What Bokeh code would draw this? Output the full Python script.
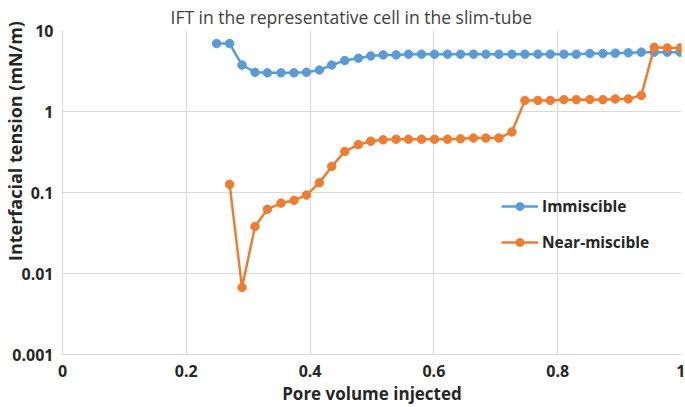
from bokeh.plotting import figure
from bokeh.models import Legend, LegendItem, FixedTicker, CustomJSTickFormatter
from bokeh.embed import file_html
from bokeh.resources import INLINE

# ---- data ----
immiscible_x = [0.249, 0.270, 0.290, 0.311, 0.331, 0.353, 0.374, 0.394, 0.415, 0.435,
                0.456, 0.478, 0.498, 0.518, 0.539, 0.559, 0.580, 0.601, 0.622, 0.643,
                0.664, 0.684, 0.705, 0.726, 0.747, 0.768, 0.788, 0.810, 0.830, 0.852,
                0.873, 0.893, 0.914, 0.935, 0.956, 0.977, 0.998]
immiscible_y = [6.9, 6.9, 3.75, 3.05, 3.0, 3.0, 3.0, 3.05, 3.25, 3.75,
                4.25, 4.55, 4.85, 5.0, 5.0, 5.1, 5.1, 5.1, 5.1, 5.1,
                5.1, 5.1, 5.1, 5.1, 5.1, 5.1, 5.1, 5.1, 5.1, 5.2,
                5.2, 5.25, 5.3, 5.4, 5.4, 5.4, 5.4]

near_x = [0.270, 0.290, 0.311, 0.331, 0.353, 0.374, 0.394, 0.415, 0.435,
          0.456, 0.478, 0.498, 0.518, 0.539, 0.559, 0.580, 0.601, 0.622, 0.643,
          0.664, 0.684, 0.705, 0.726, 0.747, 0.768, 0.788, 0.810, 0.830, 0.852,
          0.873, 0.893, 0.914, 0.935, 0.956, 0.977, 0.998]
near_y = [0.126, 0.0067, 0.038, 0.062, 0.074, 0.080, 0.093, 0.132, 0.21,
          0.32, 0.39, 0.43, 0.447, 0.455, 0.455, 0.455, 0.455, 0.455, 0.46,
          0.47, 0.47, 0.47, 0.56, 1.37, 1.37, 1.37, 1.40, 1.40, 1.41,
          1.40, 1.43, 1.43, 1.58, 6.2, 6.1, 6.1]

x_ticks = [0, 0.2, 0.4, 0.6, 0.8, 1.0]
y_ticks = [0.001, 0.01, 0.1, 1, 10]

title_text = "IFT in the representative cell in the slim-tube"
x_label = "Pore volume injected"
y_label = "Interfacial tension (mN/m)"
series_names = ["Immiscible", "Near-miscible"]

BLUE = "#5B9BD5"
ORANGE = "#ED7D31"
GRID = "#D9D9D9"
TXT = "#262626"
FONT = "Open Sans"

p = figure(width=685, height=407, x_range=(0, 1), y_range=(0.001, 10),
           y_axis_type="log", output_backend="svg", toolbar_location=None,
           title=title_text, min_border_left=61, min_border_right=4,
           min_border_top=30, min_border_bottom=52)
p.outline_line_color = None
p.background_fill_color = "white"

p.title.align = "left"
p.title.vertical_align = "bottom"
p.title.offset = 108
p.title.standoff = 4
p.title.text_font = FONT
p.title.text_font_size = "17.5px"
p.title.text_font_style = "normal"
p.title.text_color = "#404040"

# axes
for ax in (p.xaxis[0], p.yaxis[0]):
    ax.axis_line_color = GRID
    ax.major_tick_line_color = None
    ax.minor_tick_line_color = None
    ax.major_tick_out = 0
    ax.major_label_text_font = FONT
    ax.major_label_text_font_style = "bold"
    ax.major_label_text_font_size = "16px"
    ax.major_label_text_color = TXT
    ax.axis_label_text_font = FONT
    ax.axis_label_text_font_style = "bold"
    ax.axis_label_text_color = TXT

p.xaxis.ticker = FixedTicker(ticks=x_ticks)
p.xaxis.formatter = CustomJSTickFormatter(code="return String(Math.round(tick*10)/10)")
p.xaxis.major_label_standoff = 10
p.xaxis.axis_label = x_label
p.xaxis.axis_label_standoff = 2
p.xaxis.axis_label_text_font_size = "17px"

p.yaxis.ticker = FixedTicker(ticks=y_ticks)
p.yaxis.formatter = CustomJSTickFormatter(code="return String(tick)")
p.yaxis.major_label_standoff = 9
# leading no-break spaces lift the label above the lower tick labels, as in the reference
p.yaxis.axis_label = "\u00a0" * 22 + y_label
p.yaxis.axis_label_standoff = -18
p.yaxis.axis_label_text_font_size = "18px"

p.xgrid.grid_line_color = GRID
p.ygrid.grid_line_color = GRID

# data
l1 = p.line(immiscible_x, immiscible_y, line_color=BLUE, line_width=2.5)
s1 = p.scatter(immiscible_x, immiscible_y, marker="circle", size=8.5,
               fill_color=BLUE, line_color=BLUE)
l2 = p.line(near_x, near_y, line_color=ORANGE, line_width=2.5)
s2 = p.scatter(near_x, near_y, marker="circle", size=8.5,
               fill_color=ORANGE, line_color=ORANGE)

legend = Legend(items=[LegendItem(label=series_names[0], renderers=[l1, s1]),
                       LegendItem(label=series_names[1], renderers=[l2, s2])],
                location=(439, 101), padding=0, margin=0, spacing=14,
                glyph_width=37, glyph_height=20, label_height=20,
                label_standoff=4, border_line_color=None,
                background_fill_alpha=0,
                label_text_font=FONT, label_text_font_style="bold",
                label_text_font_size="15.5px", label_text_color=TXT)
p.add_layout(legend)

open("out.html", "w").write(file_html(p, INLINE))
